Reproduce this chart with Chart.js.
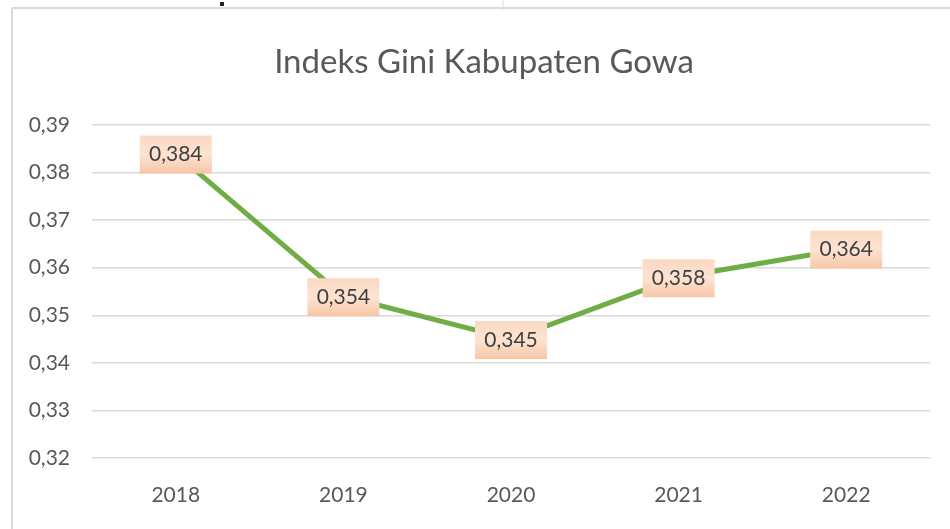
<!DOCTYPE html>
<html>
<head>
<meta charset="utf-8">
<script src="https://cdn.jsdelivr.net/npm/chart.js@4.4.1/dist/chart.umd.min.js"></script>
<style>
  html, body { margin: 0; padding: 0; background: #ffffff; }
  #wrap { width: 950px; height: 529px; position: relative; }
</style>
</head>
<body>
<div id="wrap"><canvas id="c" width="950" height="529"></canvas></div>
<script>
const chartTitle = "Indeks Gini Kabupaten Gowa";
const years = ["2018", "2019", "2020", "2021", "2022"];
const giniValues = [0.384, 0.354, 0.345, 0.358, 0.364];
const yTickValues = [0.32, 0.33, 0.34, 0.35, 0.36, 0.37, 0.38, 0.39];

const FONT = 'Lato, "Open Sans", sans-serif';
const fmt = (v, d) => v.toFixed(d).replace('.', ',');

const frame = {
  id: 'frame',
  beforeDraw(chart) {
    const ctx = chart.ctx;
    ctx.save();
    ctx.fillStyle = '#ffffff';
    ctx.fillRect(0, 0, chart.width, chart.height);
    ctx.strokeStyle = '#d9d9d9';
    ctx.lineWidth = 2;
    ctx.beginPath();
    ctx.moveTo(12, 8); ctx.lineTo(12, chart.height);
    ctx.moveTo(12, 8); ctx.lineTo(chart.width, 8);
    ctx.stroke();
    ctx.lineWidth = 1;
    ctx.beginPath();
    ctx.moveTo(503, 0); ctx.lineTo(503, 10);
    ctx.stroke();
    ctx.fillStyle = '#222222';
    ctx.fillRect(220, 2, 4, 4);
    // title
    ctx.fillStyle = '#595959';
    ctx.font = '33px ' + FONT;
    ctx.textAlign = 'center';
    ctx.textBaseline = 'middle';
    ctx.fillText(chartTitle, 484, 62);
    ctx.restore();
  }
};

const valueLabels = {
  id: 'valueLabels',
  afterDatasetsDraw(chart) {
    const ctx = chart.ctx;
    const meta = chart.getDatasetMeta(0);
    ctx.save();
    ctx.font = '21px ' + FONT;
    ctx.textAlign = 'center';
    ctx.textBaseline = 'middle';
    meta.data.forEach((pt, i) => {
      const txt = fmt(giniValues[i], 3);
      const w = 72, h = 38;
      const x = pt.x, y = pt.y + 1;
      const g = ctx.createLinearGradient(0, y - h / 2, 0, y + h / 2);
      g.addColorStop(0, '#fbd9c3');
      g.addColorStop(0.5, '#fde3d2');
      g.addColorStop(1, '#f7c6a6');
      ctx.fillStyle = g;
      ctx.fillRect(x - w / 2, y - h / 2, w, h);
      ctx.fillStyle = '#404040';
      ctx.fillText(txt, x, y);
    });
    ctx.restore();
  }
};

new Chart(document.getElementById('c'), {
  type: 'line',
  data: {
    labels: years,
    datasets: [{
      data: giniValues,
      borderColor: '#70ad47',
      borderWidth: 5,
      pointRadius: 0,
      pointHoverRadius: 0,
      tension: 0,
      fill: false
    }]
  },
  options: {
    responsive: false,
    animation: false,
    events: [],
    layout: { padding: { top: 125, right: 20, bottom: 0, left: 0 } },
    plugins: {
      legend: { display: false },
      tooltip: { enabled: false },
      title: { display: false }
    },
    scales: {
      x: {
        offset: true,
        afterFit(s) { s.height = 71; },
        grid: { display: false, drawTicks: false },
        border: { display: false },
        ticks: {
          color: '#595959',
          padding: 25,
          font: { family: FONT, size: 21 }
        }
      },
      y: {
        min: yTickValues[0],
        max: yTickValues[yTickValues.length - 1],
        afterFit(s) { s.width = 92; },
        afterBuildTicks(s) { s.ticks = yTickValues.map(v => ({ value: v })); },
        grid: { color: '#d9d9d9', lineWidth: 1.5, drawTicks: false },
        border: { display: false },
        ticks: {
          color: '#595959',
          padding: 22,
          font: { family: FONT, size: 21 },
          callback: v => fmt(v, 2)
        }
      }
    }
  },
  plugins: [frame, valueLabels]
});
</script>
</body>
</html>
